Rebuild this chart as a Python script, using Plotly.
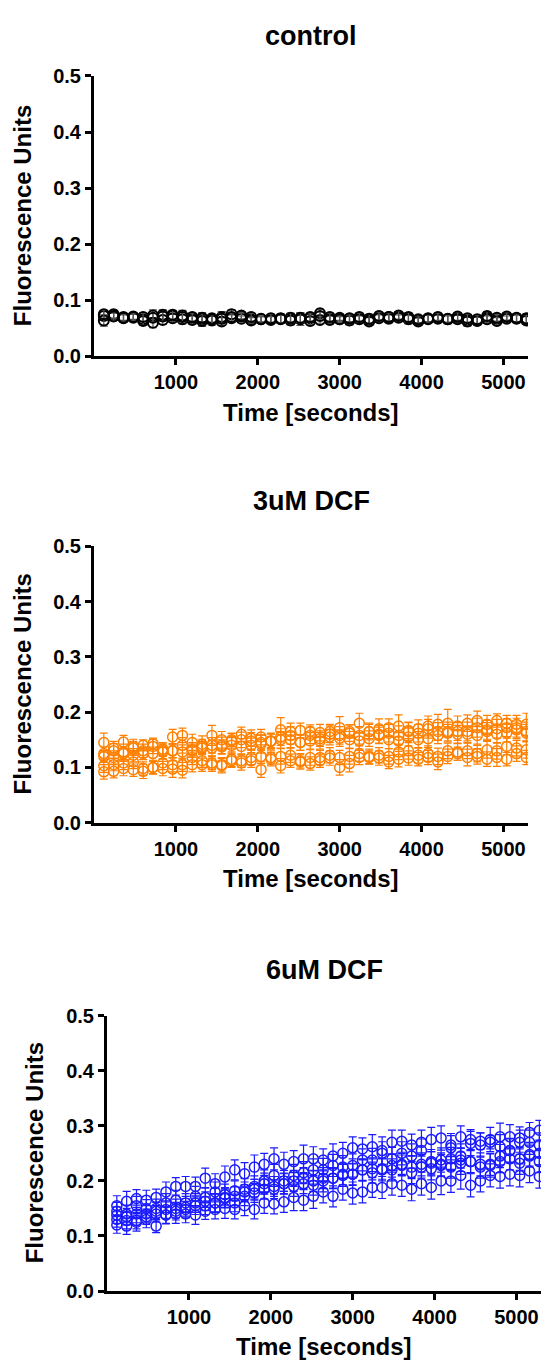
import plotly.graph_objects as go

# ---------------- data ----------------
time_s = [120, 240, 360, 480, 600, 720, 840, 960, 1080, 1200, 1320,
          1440, 1560, 1680, 1800, 1920, 2040, 2160, 2280, 2400, 2520, 2640,
          2760, 2880, 3000, 3120, 3240, 3360, 3480, 3600, 3720, 3840, 3960,
          4080, 4200, 4320, 4440, 4560, 4680, 4800, 4920, 5040, 5160, 5280]

panel_titles = ["control", "3uM DCF", "6uM DCF"]
x_title = "Time [seconds]"
y_title = "Fluorescence Units"
x_ticks = [1000, 2000, 3000, 4000, 5000]
y_ticks = [0.0, 0.1, 0.2, 0.3, 0.4, 0.5]

# control
ctrl_1 = [0.072, 0.075, 0.070, 0.071, 0.066, 0.073, 0.074, 0.072, 0.073, 0.068, 0.066,
          0.068, 0.070, 0.075, 0.067, 0.066, 0.066, 0.066, 0.068, 0.067, 0.066, 0.068,
          0.077, 0.067, 0.069, 0.067, 0.067, 0.064, 0.071, 0.070, 0.072, 0.068, 0.064,
          0.068, 0.069, 0.066, 0.069, 0.065, 0.064, 0.069, 0.066, 0.070, 0.067, 0.068]
ctrl_2 = [0.064, 0.072, 0.068, 0.069, 0.063, 0.060, 0.065, 0.068, 0.066, 0.065, 0.063,
          0.064, 0.062, 0.068, 0.071, 0.064, 0.066, 0.065, 0.066, 0.064, 0.066, 0.063,
          0.065, 0.065, 0.066, 0.064, 0.066, 0.062, 0.068, 0.067, 0.069, 0.066, 0.062,
          0.066, 0.067, 0.066, 0.066, 0.062, 0.063, 0.066, 0.063, 0.067, 0.068, 0.064]
ctrl_3 = [0.075, 0.071, 0.069, 0.070, 0.070, 0.069, 0.071, 0.074, 0.070, 0.070, 0.069,
          0.066, 0.067, 0.070, 0.073, 0.070, 0.067, 0.068, 0.067, 0.069, 0.069, 0.070,
          0.072, 0.070, 0.066, 0.068, 0.070, 0.067, 0.072, 0.070, 0.073, 0.070, 0.066,
          0.067, 0.070, 0.067, 0.071, 0.068, 0.066, 0.072, 0.069, 0.071, 0.069, 0.067]
ctrl_err_1 = [0.008, 0.007, 0.006, 0.005, 0.007, 0.010, 0.009, 0.008, 0.009, 0.008, 0.012,
              0.007, 0.010, 0.008, 0.005, 0.006, 0.005, 0.006, 0.008, 0.009, 0.011, 0.007,
              0.007, 0.008, 0.005, 0.007, 0.006, 0.008, 0.008, 0.007, 0.006, 0.008, 0.007,
              0.006, 0.005, 0.008, 0.007, 0.009, 0.006, 0.008, 0.005, 0.006, 0.007, 0.008]
ctrl_err_2 = [0.010, 0.005, 0.006, 0.006, 0.008, 0.009, 0.008, 0.007, 0.008, 0.007, 0.009,
              0.008, 0.007, 0.006, 0.006, 0.005, 0.005, 0.006, 0.007, 0.008, 0.007, 0.007,
              0.006, 0.007, 0.005, 0.008, 0.006, 0.007, 0.006, 0.007, 0.005, 0.008, 0.006,
              0.007, 0.006, 0.006, 0.007, 0.008, 0.007, 0.006, 0.006, 0.005, 0.006, 0.007]
ctrl_err_3 = [0.007, 0.007, 0.006, 0.006, 0.007, 0.007, 0.008, 0.008, 0.008, 0.007, 0.007,
              0.008, 0.009, 0.007, 0.006, 0.007, 0.006, 0.007, 0.007, 0.008, 0.009, 0.007,
              0.007, 0.007, 0.006, 0.006, 0.007, 0.008, 0.007, 0.007, 0.007, 0.008, 0.006,
              0.007, 0.007, 0.006, 0.007, 0.007, 0.007, 0.008, 0.006, 0.007, 0.007, 0.007]

# 3uM DCF
dcf3_1 = [0.145, 0.135, 0.146, 0.138, 0.140, 0.143, 0.133, 0.155, 0.158, 0.145, 0.135,
          0.158, 0.150, 0.150, 0.160, 0.153, 0.155, 0.148, 0.168, 0.165, 0.167, 0.165,
          0.163, 0.165, 0.172, 0.165, 0.180, 0.165, 0.170, 0.172, 0.175, 0.167, 0.170,
          0.175, 0.178, 0.180, 0.175, 0.180, 0.185, 0.178, 0.185, 0.180, 0.178, 0.178]
dcf3_2 = [0.125, 0.130, 0.128, 0.135, 0.130, 0.138, 0.130, 0.130, 0.140, 0.132, 0.142,
          0.140, 0.140, 0.148, 0.150, 0.148, 0.142, 0.147, 0.155, 0.158, 0.145, 0.158,
          0.152, 0.160, 0.158, 0.162, 0.158, 0.165, 0.160, 0.162, 0.158, 0.165, 0.162,
          0.170, 0.165, 0.165, 0.165, 0.165, 0.172, 0.168, 0.170, 0.172, 0.172, 0.165]
dcf3_3 = [0.120, 0.118, 0.125, 0.122, 0.125, 0.125, 0.128, 0.130, 0.128, 0.130, 0.138,
          0.135, 0.137, 0.140, 0.138, 0.140, 0.145, 0.148, 0.150, 0.150, 0.145, 0.148,
          0.148, 0.155, 0.153, 0.150, 0.148, 0.152, 0.158, 0.150, 0.148, 0.155, 0.150,
          0.152, 0.158, 0.162, 0.160, 0.160, 0.158, 0.165, 0.160, 0.162, 0.168, 0.162]
dcf3_4 = [0.103, 0.105, 0.108, 0.110, 0.098, 0.100, 0.108, 0.105, 0.105, 0.118, 0.112,
          0.108, 0.105, 0.115, 0.112, 0.118, 0.120, 0.118, 0.120, 0.122, 0.112, 0.118,
          0.118, 0.122, 0.118, 0.120, 0.125, 0.120, 0.122, 0.120, 0.128, 0.130, 0.122,
          0.125, 0.120, 0.130, 0.128, 0.130, 0.125, 0.132, 0.130, 0.138, 0.135, 0.132]
dcf3_5 = [0.092, 0.093, 0.098, 0.096, 0.093, 0.100, 0.098, 0.097, 0.095, 0.105, 0.105,
          0.105, 0.103, 0.112, 0.108, 0.112, 0.096, 0.115, 0.103, 0.112, 0.110, 0.107,
          0.112, 0.117, 0.100, 0.107, 0.118, 0.118, 0.117, 0.110, 0.115, 0.117, 0.115,
          0.118, 0.110, 0.120, 0.125, 0.118, 0.120, 0.115, 0.118, 0.115, 0.125, 0.118]
dcf3_err_1 = [0.017, 0.012, 0.012, 0.013, 0.010, 0.010, 0.012, 0.014, 0.013, 0.015, 0.012,
              0.018, 0.015, 0.012, 0.013, 0.015, 0.014, 0.012, 0.022, 0.015, 0.013, 0.012,
              0.015, 0.013, 0.020, 0.012, 0.018, 0.013, 0.018, 0.016, 0.020, 0.015, 0.016,
              0.018, 0.018, 0.025, 0.018, 0.015, 0.017, 0.016, 0.012, 0.014, 0.016, 0.020]
dcf3_err_2 = [0.012, 0.013, 0.014, 0.012, 0.012, 0.013, 0.014, 0.013, 0.014, 0.013, 0.015,
              0.014, 0.015, 0.013, 0.014, 0.015, 0.016, 0.014, 0.015, 0.016, 0.014, 0.015,
              0.014, 0.015, 0.016, 0.015, 0.016, 0.015, 0.016, 0.016, 0.017, 0.016, 0.016,
              0.017, 0.016, 0.017, 0.016, 0.017, 0.017, 0.017, 0.017, 0.016, 0.017, 0.017]
dcf3_err_3 = [0.011, 0.012, 0.012, 0.012, 0.011, 0.012, 0.013, 0.012, 0.013, 0.012, 0.013,
              0.014, 0.013, 0.014, 0.014, 0.013, 0.014, 0.014, 0.015, 0.014, 0.014, 0.015,
              0.015, 0.014, 0.015, 0.015, 0.015, 0.014, 0.015, 0.016, 0.015, 0.016, 0.015,
              0.016, 0.015, 0.016, 0.016, 0.015, 0.016, 0.016, 0.016, 0.016, 0.016, 0.016]
dcf3_err_4 = [0.012, 0.011, 0.012, 0.012, 0.012, 0.011, 0.012, 0.013, 0.012, 0.013, 0.012,
              0.012, 0.013, 0.013, 0.012, 0.013, 0.013, 0.012, 0.014, 0.013, 0.013, 0.014,
              0.013, 0.014, 0.013, 0.014, 0.014, 0.013, 0.014, 0.014, 0.014, 0.015, 0.014,
              0.014, 0.015, 0.014, 0.015, 0.014, 0.015, 0.015, 0.015, 0.015, 0.014, 0.015]
dcf3_err_5 = [0.013, 0.012, 0.013, 0.012, 0.013, 0.012, 0.013, 0.015, 0.014, 0.013, 0.012,
              0.012, 0.013, 0.012, 0.013, 0.012, 0.014, 0.012, 0.013, 0.012, 0.013, 0.012,
              0.012, 0.013, 0.014, 0.015, 0.013, 0.012, 0.013, 0.012, 0.014, 0.013, 0.012,
              0.013, 0.014, 0.013, 0.012, 0.015, 0.014, 0.013, 0.016, 0.012, 0.014, 0.013]

# 6uM DCF
dcf6_1 = [0.155, 0.163, 0.168, 0.165, 0.170, 0.180, 0.190, 0.190, 0.190, 0.205, 0.195,
          0.207, 0.220, 0.213, 0.225, 0.230, 0.240, 0.230, 0.235, 0.240, 0.240, 0.238,
          0.245, 0.250, 0.260, 0.258, 0.262, 0.255, 0.270, 0.272, 0.265, 0.270, 0.275,
          0.278, 0.260, 0.280, 0.275, 0.272, 0.270, 0.280, 0.280, 0.278, 0.288, 0.292]
dcf6_2 = [0.145, 0.140, 0.155, 0.150, 0.150, 0.160, 0.165, 0.160, 0.172, 0.170, 0.180,
          0.175, 0.182, 0.185, 0.190, 0.200, 0.210, 0.200, 0.210, 0.215, 0.220, 0.220,
          0.228, 0.225, 0.228, 0.238, 0.238, 0.250, 0.240, 0.250, 0.245, 0.255, 0.235,
          0.238, 0.265, 0.245, 0.268, 0.265, 0.275, 0.262, 0.255, 0.270, 0.270, 0.265]
dcf6_3 = [0.138, 0.135, 0.140, 0.140, 0.145, 0.148, 0.150, 0.152, 0.160, 0.163, 0.160,
          0.170, 0.172, 0.180, 0.185, 0.195, 0.190, 0.195, 0.200, 0.205, 0.200, 0.200,
          0.205, 0.210, 0.212, 0.220, 0.222, 0.220, 0.228, 0.230, 0.225, 0.230, 0.232,
          0.230, 0.240, 0.238, 0.235, 0.230, 0.228, 0.245, 0.255, 0.240, 0.248, 0.250]
dcf6_4 = [0.130, 0.128, 0.128, 0.135, 0.140, 0.138, 0.145, 0.148, 0.155, 0.155, 0.160,
          0.168, 0.160, 0.172, 0.178, 0.185, 0.185, 0.195, 0.190, 0.195, 0.192, 0.205,
          0.205, 0.212, 0.212, 0.220, 0.215, 0.222, 0.220, 0.228, 0.215, 0.225, 0.222,
          0.228, 0.225, 0.232, 0.235, 0.225, 0.230, 0.235, 0.240, 0.232, 0.245, 0.235]
dcf6_5 = [0.120, 0.118, 0.125, 0.130, 0.118, 0.138, 0.140, 0.140, 0.138, 0.145, 0.148,
          0.150, 0.148, 0.155, 0.148, 0.160, 0.158, 0.162, 0.170, 0.165, 0.172, 0.180,
          0.172, 0.185, 0.178, 0.180, 0.188, 0.188, 0.195, 0.192, 0.185, 0.195, 0.188,
          0.200, 0.200, 0.210, 0.192, 0.200, 0.210, 0.208, 0.212, 0.210, 0.218, 0.208]
dcf6_err_1 = [0.018, 0.018, 0.016, 0.018, 0.015, 0.018, 0.016, 0.018, 0.017, 0.018, 0.018,
              0.020, 0.018, 0.020, 0.022, 0.020, 0.020, 0.022, 0.020, 0.025, 0.022, 0.020,
              0.022, 0.020, 0.020, 0.020, 0.022, 0.025, 0.022, 0.020, 0.020, 0.022, 0.022,
              0.022, 0.022, 0.020, 0.018, 0.015, 0.012, 0.025, 0.022, 0.020, 0.018, 0.018]
dcf6_err_2 = [0.016, 0.016, 0.017, 0.016, 0.017, 0.017, 0.018, 0.017, 0.018, 0.018, 0.018,
              0.019, 0.018, 0.019, 0.019, 0.020, 0.020, 0.019, 0.020, 0.020, 0.020, 0.021,
              0.020, 0.021, 0.021, 0.020, 0.021, 0.021, 0.021, 0.021, 0.022, 0.021, 0.022,
              0.022, 0.021, 0.022, 0.022, 0.022, 0.022, 0.022, 0.022, 0.022, 0.022, 0.022]
dcf6_err_3 = [0.015, 0.015, 0.016, 0.015, 0.016, 0.016, 0.017, 0.016, 0.017, 0.017, 0.017,
              0.018, 0.017, 0.018, 0.018, 0.019, 0.018, 0.019, 0.019, 0.019, 0.019, 0.020,
              0.019, 0.020, 0.020, 0.020, 0.020, 0.020, 0.021, 0.020, 0.021, 0.021, 0.021,
              0.021, 0.021, 0.021, 0.021, 0.021, 0.021, 0.021, 0.021, 0.021, 0.021, 0.021]
dcf6_err_4 = [0.014, 0.015, 0.015, 0.014, 0.015, 0.015, 0.016, 0.015, 0.016, 0.016, 0.016,
              0.017, 0.016, 0.017, 0.017, 0.018, 0.017, 0.018, 0.018, 0.018, 0.018, 0.019,
              0.018, 0.019, 0.019, 0.019, 0.019, 0.019, 0.020, 0.019, 0.020, 0.020, 0.020,
              0.020, 0.020, 0.020, 0.020, 0.020, 0.020, 0.020, 0.020, 0.020, 0.020, 0.020]
dcf6_err_5 = [0.015, 0.015, 0.016, 0.015, 0.012, 0.016, 0.017, 0.016, 0.017, 0.015, 0.017,
              0.018, 0.017, 0.018, 0.017, 0.019, 0.018, 0.019, 0.024, 0.019, 0.022, 0.020,
              0.019, 0.020, 0.020, 0.020, 0.018, 0.020, 0.021, 0.020, 0.021, 0.021, 0.021,
              0.025, 0.021, 0.025, 0.021, 0.020, 0.021, 0.021, 0.021, 0.021, 0.021, 0.021]

panels = [
    [(ctrl_1, ctrl_err_1, "#000000"), (ctrl_2, ctrl_err_2, "#000000"), (ctrl_3, ctrl_err_3, "#000000")],
    [(dcf3_1, dcf3_err_1, "#ff8000"), (dcf3_2, dcf3_err_2, "#ff8000"), (dcf3_3, dcf3_err_3, "#ff8000"),
     (dcf3_4, dcf3_err_4, "#ff8000"), (dcf3_5, dcf3_err_5, "#ff8000")],
    [(dcf6_1, dcf6_err_1, "#1a1aff"), (dcf6_2, dcf6_err_2, "#1a1aff"), (dcf6_3, dcf6_err_3, "#1a1aff"),
     (dcf6_4, dcf6_err_4, "#1a1aff"), (dcf6_5, dcf6_err_5, "#1a1aff")],
]
marker_line_w = [2.0, 1.5, 1.5]
err_colors = ["#555555", None, None]

# ---------------- layout geometry (pixels) ----------------
W, H = 544, 1369
# (left, right, top, bottom) of each plot area
boxes = [(94, 528, 66, 351), (94, 528, 544, 825), (107, 541, 1021, 1301)]
title_y = [25, 498, 975]
xtitle_y = [408, 882, 1357]
ytitle_x = [22, 22, 34]

FONT = "Liberation Sans, Arial, sans-serif"

fig = go.Figure()
layout = dict(
    width=W, height=H, margin=dict(l=0, r=0, t=0, b=0),
    paper_bgcolor="white", plot_bgcolor="white", showlegend=False,
    font=dict(family=FONT, color="black"),
)
annotations = []

for i, (series, box) in enumerate(zip(panels, boxes)):
    l, r, t, b = box
    xa = "x" if i == 0 else f"x{i+1}"
    ya = "y" if i == 0 else f"y{i+1}"
    for vals, errs, col in series:
        ec = err_colors[i] or col
        fig.add_trace(go.Scatter(
            x=time_s, y=vals, xaxis=xa, yaxis=ya, mode="markers",
            marker=dict(symbol="circle-open", size=10, color=col,
                        line=dict(width=marker_line_w[i], color=col)),
            error_y=dict(type="data", array=errs, visible=True, color=ec, thickness=1.2, width=4),
        ))
    kx = "xaxis" if i == 0 else f"xaxis{i+1}"
    ky = "yaxis" if i == 0 else f"yaxis{i+1}"
    layout[kx] = dict(
        domain=[l / W, r / W], anchor=ya, range=[0, 5300],
        tickvals=x_ticks, ticktext=[str(v) for v in x_ticks],
        showline=True, linewidth=3, linecolor="black", ticks="outside", ticklen=6,
        tickwidth=3, tickcolor="black", showgrid=False, zeroline=False,
        tickfont=dict(family=FONT, size=20, color="black", weight="bold"),
    )
    layout[ky] = dict(
        domain=[1 - b / H, 1 - t / H], anchor=xa, range=[0, 0.5],
        tickvals=y_ticks, ticktext=[f"{v:.1f}" for v in y_ticks],
        showline=True, linewidth=3, linecolor="black", ticks="outside", ticklen=6,
        tickwidth=3, tickcolor="black", showgrid=False, zeroline=False,
        tickfont=dict(family=FONT, size=20, color="black", weight="bold"),
    )
    cx = (l + r) / 2 / W
    annotations.append(dict(text=panel_titles[i], x=cx, y=1 - title_y[i] / H, xref="paper", yref="paper",
                            showarrow=False, xanchor="center", yanchor="middle",
                            font=dict(family=FONT, size=27, color="black", weight="bold")))
    annotations.append(dict(text=x_title, x=cx, y=1 - xtitle_y[i] / H, xref="paper", yref="paper",
                            showarrow=False, xanchor="center", yanchor="middle",
                            font=dict(family=FONT, size=24, color="black", weight="bold")))
    annotations.append(dict(text=y_title, x=ytitle_x[i] / W, y=1 - (t + b) / 2 / H, xref="paper", yref="paper",
                            showarrow=False, xanchor="center", yanchor="middle", textangle=-90,
                            font=dict(family=FONT, size=24, color="black", weight="bold")))

layout["annotations"] = annotations
fig.update_layout(**layout)
fig.write_html("out.html")
